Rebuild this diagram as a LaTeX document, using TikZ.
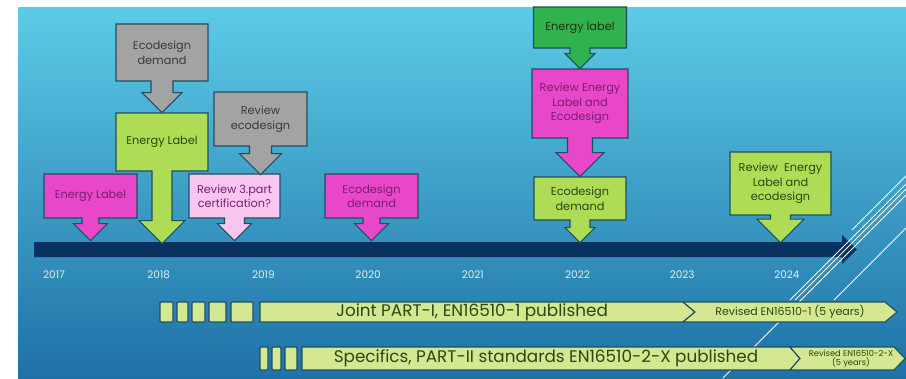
\documentclass[tikz,border=0pt]{standalone}
\usepackage{fontspec}
\setmainfont{Poppins}
\usetikzlibrary{shapes.arrows,positioning}
\definecolor{bgtop}{HTML}{5CCBE7}
\definecolor{bgbot}{HTML}{1F71A6}
\definecolor{navy}{HTML}{0B3160}
\definecolor{edge}{HTML}{1E4F5E}
\definecolor{mag}{HTML}{E847C9}
\definecolor{magtext}{HTML}{7A1F72}
\definecolor{lmag}{HTML}{F8C6EE}
\definecolor{greybox}{HTML}{A3A3A3}
\definecolor{greytext}{HTML}{3A3A3A}
\definecolor{lgreen}{HTML}{AEDD55}
\definecolor{greentext}{HTML}{2C4614}
\definecolor{dgreen}{HTML}{30B24E}
\definecolor{bar}{HTML}{D3E890}
\definecolor{yeartext}{HTML}{DCEEF5}

\begin{document}
\begin{tikzpicture}[x=1pt,y=-1pt,node distance=80pt,on grid,
    call/.style={shape=arrow box,draw=edge,line width=1.1pt,align=center,inner sep=1pt,
      font=\fontsize{11.3}{14.5}\selectfont,arrow box tip angle=90},
    pk/.style={call,fill=mag,text=magtext},
    lp/.style={call,fill=lmag,text=magtext},
    gy/.style={call,fill=greybox,text=greytext},
    lg/.style={call,fill=lgreen,text=greentext},
    dg/.style={call,fill=dgreen,text=greentext!70!black},
    seg/.style={draw=edge,line width=1.1pt,fill=bar},
    yrs/.style={text=yeartext,font=\fontsize{10.5}{12}\selectfont},
    big/.style={text=greentext,font=\fontsize{16.8}{19}\selectfont},
    small/.style={text=greentext,font=\fontsize{11}{12}\selectfont,align=center}]
  \useasboundingbox (0,0) rectangle (906,378);
  \shade[top color=bgtop,bottom color=bgbot] (18,7) rectangle (906,378);

  \fill[navy] (34,242) -- (842,242) -- (842,235) -- (857,249.5) -- (842,264) -- (842,257) -- (34,257) -- cycle;
  \foreach \yr [count=\k from 0] in {2017,...,2024}
    \node[yrs] (y\yr) at (54+104.7*\k,275) {\yr};

  \draw[white,line width=0.8pt] (852,230) -- (906,176);
  \draw[white,line width=0.8pt] (790,300) -- (906,184);
  \draw[white,line width=0.8pt] (795,300) -- (906,189);
  \draw[white,line width=0.8pt] (723,378) -- (906,195);
  \draw[white,line width=0.8pt] (834,300) -- (906,228);

  \node[pk,minimum width=93pt,minimum height=44pt,arrow box arrows={south:22pt from border},
    arrow box shaft width=17pt,arrow box head extend=8.5pt] (a) at (90.5,196) {Energy Label};
  \node[lg,minimum width=92pt,minimum height=58pt,arrow box arrows={south:72pt from border},
    arrow box shaft width=20pt,arrow box head extend=13pt] (b) at (162,142) {Energy Label};
  \node[gy,minimum width=92pt,minimum height=57pt,arrow box arrows={south:31pt from border},
    arrow box shaft width=22pt,arrow box head extend=9pt] (c) [above=89.5pt of b] {Ecodesign\\demand};
  \node[lp,minimum width=91pt,minimum height=44pt,arrow box arrows={south:22pt from border},
    arrow box shaft width=20pt,arrow box head extend=7pt] (e) at (234.5,196) {Review 3.part\\certification?};
  \node[gy,minimum width=93pt,minimum height=54pt,arrow box arrows={south:28pt from border},
    arrow box shaft width=22pt,arrow box head extend=10pt] (d) [above right=77pt and 26pt of e] {Review\\ecodesign};
  \node[pk,minimum width=93pt,minimum height=44pt,arrow box arrows={south:22pt from border},
    arrow box shaft width=17pt,arrow box head extend=8.5pt] (i) at (371.5,196) {Ecodesign\\demand};
  \node[lg,minimum width=92pt,minimum height=43pt,arrow box arrows={south:22pt from border},
    arrow box shaft width=20pt,arrow box head extend=5pt] (h) at (580,198.5) {Ecodesign\\demand};
  \node[pk,minimum width=96pt,minimum height=69pt,arrow box arrows={south:38pt from border},
    arrow box shaft width=25pt,arrow box head extend=11.5pt] (g) [above=95pt of h] {Review Energy\\Label and\\Ecodesign};
  \node[dg,minimum width=93pt,minimum height=41pt,arrow box arrows={south:20pt from border},
    arrow box shaft width=20pt,arrow box head extend=5pt] (f) [above=76pt of g] {Energy label};
  \node[lg,minimum width=101pt,minimum height=63pt,arrow box arrows={south:27pt from border},
    arrow box shaft width=20pt,arrow box head extend=13.5pt] (j) at (780.5,183.5) {Review~ Energy\\Label and\\ecodesign};

  \foreach \l/\r in {160/173,177/188,192/205,209/226,231/253}
    \draw[seg,rounded corners=1pt] (\l,302) rectangle (\r,322);
  \draw[seg] (260,302) -- (683,302) -- (695,312) -- (683,322) -- (260,322) -- cycle;
  \draw[seg] (683,302) -- (885,302) -- (897,312) -- (885,322) -- (683,322) -- (695,312) -- cycle;
  \foreach \l/\r in {260/268,272/281,285/297}
    \draw[seg,rounded corners=1pt] (\l,347) rectangle (\r,370);
  \draw[seg] (302,347) -- (790,347) -- (800,358.5) -- (790,370) -- (302,370) -- cycle;
  \draw[seg] (790,347) -- (894,347) -- (905,358.5) -- (894,370) -- (790,370) -- (800,358.5) -- cycle;
  \node[big] (p) at (472,312) {Joint PART-I, EN16510-1 published};
  \node[small] (q) at (790,312) {Revised EN16510-1 (5 years)};
  \node[big] (r) at (546,358.5) {Specifics, PART-II standards EN16510-2-X published};
  \node[small,font=\fontsize{8.3}{9}\selectfont] (s) at (851,358.5) {Revised EN16510-2-X\\(5 years)};
\end{tikzpicture}
\end{document}
